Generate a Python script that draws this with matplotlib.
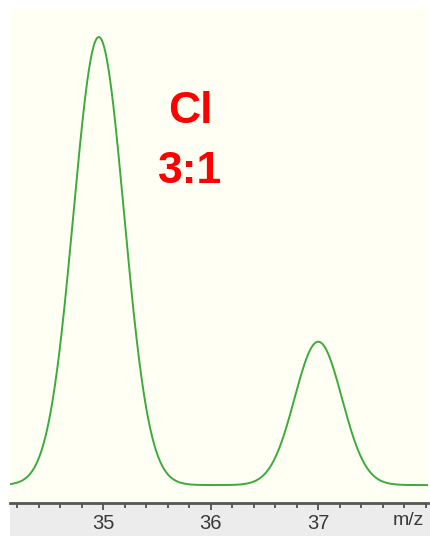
import matplotlib
matplotlib.use("Agg")
import matplotlib.pyplot as plt
import numpy as np
from matplotlib.patches import Rectangle
from matplotlib.ticker import MultipleLocator

# chlorine isotope peaks: m/z, relative intensity, peak width (sigma)
peak_mz = [34.96, 37.0]
peak_height = [100.0, 32.0]
peak_sigma = [0.235, 0.22]

tick_values = [35, 36, 37]
tick_labels = ["35", "36", "37"]

W, H = 431, 536
fig = plt.figure(figsize=(W / 100, H / 100), dpi=100)
fig.patch.set_facecolor("white")

# grey strip below the axis
fig.patches.append(Rectangle((10 / W, 0), 1 - 10 / W, 33 / H,
                             transform=fig.transFigure, facecolor="#ececec",
                             edgecolor="none", zorder=-5))

ax = fig.add_axes([10 / W, 33 / H, 418 / W, (503 - 7) / H])
ax.set_facecolor("#fffff3")
ax.set_zorder(2)

mz = np.linspace(34.0, 38.2, 2000)
profile = np.zeros_like(mz)
for c, h, s in zip(peak_mz, peak_height, peak_sigma):
    profile += h * np.exp(-0.5 * ((mz - c) / s) ** 2)

ax.plot(mz, profile, color="#3daa3d", lw=1.4, solid_joinstyle="round")

ax.set_xlim(34.135, 38.02)
ax.set_ylim(-4.0, 106.7)

for side in ("left", "right", "top"):
    ax.spines[side].set_visible(False)
ax.spines["bottom"].set_color("#555555")
ax.spines["bottom"].set_linewidth(2.0)

ax.set_yticks([])
ax.set_xticks(tick_values)
ax.set_xticklabels(tick_labels)
ax.xaxis.set_minor_locator(MultipleLocator(0.2))
ax.tick_params(axis="x", which="major", direction="out", length=5, width=1.2,
               color="#444444", pad=3, labelsize=14.5, labelcolor="#3a3a3a")
ax.tick_params(axis="x", which="minor", direction="out", length=3.5, width=1.2,
               color="#444444")
for lbl in ax.get_xticklabels():
    lbl.set_family("Liberation Sans")

ax.text(0.953, -0.035, "m/z", transform=ax.transAxes, ha="center", va="center",
        fontsize=14, color="#3a3a3a", family="Liberation Sans")

ax.text(0.432, 0.79, "Cl", transform=ax.transAxes, ha="center", va="center",
        fontsize=32, fontweight="bold", color="#ff0000", family="Liberation Sans")
ax.text(0.432, 0.668, "3:1", transform=ax.transAxes, ha="center", va="center",
        fontsize=32, fontweight="bold", color="#ff0000", family="Liberation Sans")

fig.savefig("out.png", dpi=100)
